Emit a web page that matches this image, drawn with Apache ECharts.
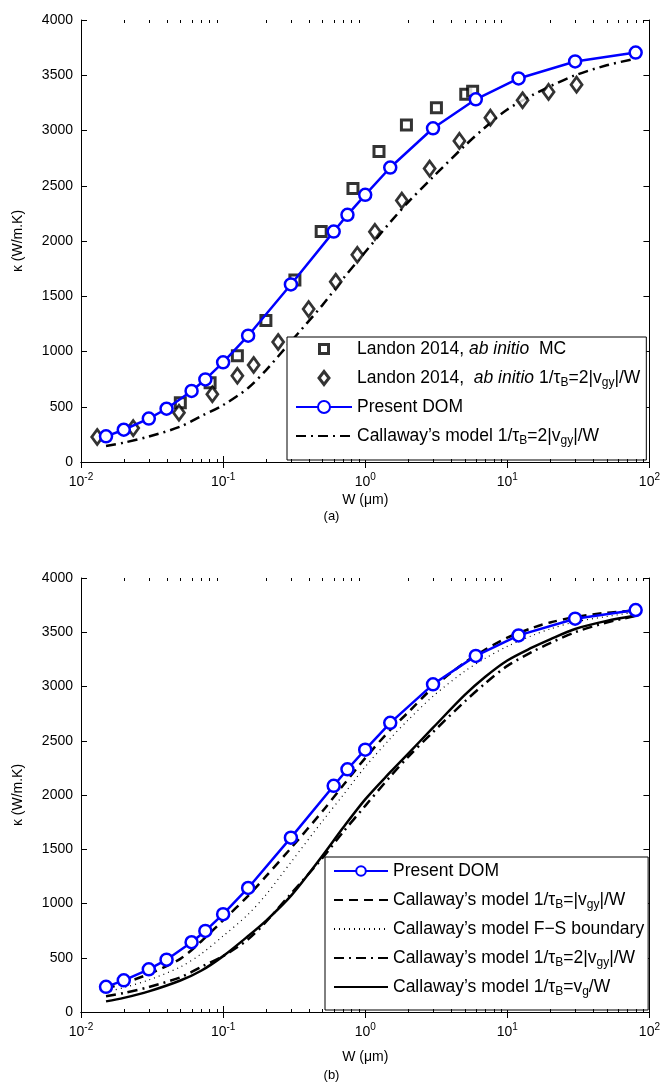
<!DOCTYPE html>
<html><head><meta charset="utf-8">
<script src="https://cdn.jsdelivr.net/npm/echarts@6/dist/echarts.min.js"></script>
<style>html,body{margin:0;padding:0;background:#fff}#c{width:663px;height:1087px}</style>
</head><body><div id="c"></div>
<script>
// ---- data ----
const W_DOM = [0.015,0.02,0.03,0.04,0.06,0.075,0.1,0.15,0.3,0.6,0.75,1,1.5,3,6,12,30,80];
const K_DOM = [232,292,393,482,643,747,902,1143,1607,2085,2237,2418,2665,3020,3282,3471,3625,3705];

const W_MC = [0.05,0.081,0.126,0.2,0.32,0.49,0.82,1.25,1.95,3.17,5.1,5.7];
const K_MC = [536,717,961,1280,1646,2086,2476,2811,3050,3205,3328,3355];

const W_AI = [0.013,0.0233,0.0489,0.084,0.126,0.164,0.244,0.40,0.62,0.88,1.17,1.81,2.84,4.6,7.6,12.8,19.5,30.7];
const K_AI = [226,307,446,613,780,878,1086,1384,1631,1875,2083,2366,2655,2906,3116,3274,3349,3415];

const W_CAL = [0.015,0.02,0.03,0.05,0.07,0.1,0.15,0.2,0.3,0.5,0.7,1,1.5,2,3,5,7,10,15,20,30,50,80];
const K_CAL_VGY  = [215,265,350,490,650,845,1070,1250,1510,1850,2090,2340,2600,2760,2990,3220,3340,3450,3540,3590,3640,3680,3700];
const K_CAL_FS   = [185,225,295,415,535,700,900,1080,1380,1760,2000,2260,2520,2690,2910,3140,3260,3370,3470,3530,3595,3645,3685];
const K_CAL_2VGY = [145,175,230,320,415,515,670,830,1090,1420,1660,1900,2170,2350,2580,2860,3030,3190,3320,3400,3500,3590,3650];
const K_CAL_VG   = [98,130,190,290,380,515,700,840,1070,1440,1700,1960,2210,2380,2620,2920,3090,3240,3360,3435,3530,3605,3655];

const X_MINOR = [];
[0.01,0.1,1,10].forEach(d=>{for(let k=2;k<=9;k++)X_MINOR.push(+(d*k).toPrecision(3));});
const Y_TICK_STEP = 500;

const NAMES = {
  mc: 'Landon 2014, ab initio  MC',
  ai: 'Landon 2014,  ab initio 1/tauB=2|vgy|/W',
  dom: 'Present DOM',
  c2: 'Callaway 1/tauB=2|vgy|/W',
  c1: 'Callaway 1/tauB=|vgy|/W',
  fs: "Callaway F-S",
  vg: 'Callaway 1/tauB=vg/W'
};
const LABELS = {};
LABELS[NAMES.mc] = 'Landon 2014, {i|ab initio}  MC';
LABELS[NAMES.ai] = 'Landon 2014,  {i|ab initio} 1/τ{s|B}=2|v{s|gy}|/W';
LABELS[NAMES.dom] = 'Present DOM';
LABELS[NAMES.c2] = 'Callaway’s model 1/τ{s|B}=2|v{s|gy}|/W';
LABELS[NAMES.c1] = 'Callaway’s model 1/τ{s|B}=|v{s|gy}|/W';
LABELS[NAMES.fs] = 'Callaway’s model F−S boundary';
LABELS[NAMES.vg] = 'Callaway’s model 1/τ{s|B}=v{s|g}/W';

const zip = (a,b)=>a.map((v,i)=>[v,b[i]]);
const FONT = 'Liberation Sans, Arial, Helvetica, sans-serif';
const BLUE = '#0000ff';

const GRIDS = [{left:81,right:10,top:20,height:442},{left:81,right:10,top:578,height:434}];

function xAxes(gi){
  return [
    {type:'log',logBase:10,gridIndex:gi,min:0.01,max:100,position:'bottom',
     name:'W (μm)',nameLocation:'middle',nameGap:gi===0?31:38,
     nameTextStyle:{fontFamily:FONT,fontSize:14,color:'#000'},
     axisLine:{lineStyle:{color:'#000',width:1}},
     axisTick:{inside:true,length:6,lineStyle:{color:'#000'}},
     splitLine:{show:false},minorTick:{show:false},
     axisLabel:{color:'#000',fontFamily:FONT,fontSize:14,margin:10,
       formatter:v=>{const e=Math.round(Math.log10(v));return '{b|10}{p|'+e+'}';},
       rich:{b:{fontFamily:FONT,fontSize:14,color:'#000'},p:{fontFamily:FONT,fontSize:10,color:'#000',padding:[0,0,10,0]}}}},
    {type:'log',logBase:10,gridIndex:gi,min:0.01,max:100,position:'top',
     axisLine:{lineStyle:{color:'#000',width:1}},
     axisTick:{inside:true,length:6,lineStyle:{color:'#000'}},
     axisLabel:{show:false},splitLine:{show:false}}
  ];
}
function yAxes(gi){
  return [
    {type:'value',gridIndex:gi,min:0,max:4000,interval:Y_TICK_STEP,position:'left',
     name:'κ (W/m.K)',nameLocation:'middle',nameGap:56,nameRotate:90,
     nameTextStyle:{fontFamily:FONT,fontSize:14,color:'#000'},
     axisLine:{show:true,lineStyle:{color:'#000',width:1}},
     axisTick:{show:true,inside:true,length:6,lineStyle:{color:'#000'}},
     splitLine:{show:false},
     axisLabel:{color:'#000',fontFamily:FONT,fontSize:14,margin:8,formatter:v=>String(v)}},
    {type:'value',gridIndex:gi,min:0,max:4000,interval:Y_TICK_STEP,position:'right',
     axisLine:{show:true,lineStyle:{color:'#000',width:1}},
     axisTick:{show:true,inside:true,length:6,lineStyle:{color:'#000'}},
     splitLine:{show:false},axisLabel:{show:false}}
  ];
}

function minorSeries(gi){
  return {type:'custom',xAxisIndex:gi*2,yAxisIndex:gi*2,silent:true,z:5,clip:false,
    data:X_MINOR.map(v=>[v,0]),
    renderItem:(params,api)=>{
      const cs=params.coordSys;const x=Math.round(api.coord([api.value(0),0])[0])+0.5;
      const y0=cs.y+cs.height,y1=cs.y;
      return {type:'group',children:[
        {type:'line',shape:{x1:x,y1:y0,x2:x,y2:y0-3},style:{stroke:'#000',lineWidth:1}},
        {type:'line',shape:{x1:x,y1:y1,x2:x,y2:y1+3},style:{stroke:'#000',lineWidth:1}}
      ]};
    }};
}

const legendText = {fontFamily:FONT,fontSize:17.5,color:'#000',lineHeight:22,
  rich:{i:{fontFamily:FONT,fontSize:17.5,fontStyle:'italic',color:'#000',lineHeight:22},
        s:{fontFamily:FONT,fontSize:12,color:'#000',lineHeight:12,padding:[10,0,0,0]}}};

const domSeries = (gi)=>({name:NAMES.dom,type:'line',xAxisIndex:gi*2,yAxisIndex:gi*2,z:10,
  data:zip(W_DOM,K_DOM),symbol:'circle',symbolSize:12,showAllSymbol:true,
  lineStyle:{color:BLUE,width:2.5},itemStyle:{color:'#fff',borderColor:BLUE,borderWidth:2.5},
  emphasis:{disabled:true}});

const curve = (gi,name,vals,type,width,z)=>({name,type:'line',xAxisIndex:gi*2,yAxisIndex:gi*2,z:z||3,
  data:zip(W_CAL,vals),symbol:'none',smooth:0.3,
  lineStyle:{color:'#000',width:width,type:type},itemStyle:{color:'#000'},emphasis:{disabled:true}});

const DASHDOT=[10,5,2,5], DASH=[9,6], DOT=[1,4];
const NOSYM = {itemStyle:{opacity:0}};
const SQUARE = 'path://M0,0L0,0M15,15L15,15M3,3L12,3L12,12L3,12Z';
const DIAMOND = 'path://M0,0L0,0M15,15L15,15M7.5,1L12.5,7.5L7.5,14L2.5,7.5Z';
const MARKSTYLE = {color:'#fff',borderColor:'#000',borderWidth:3};

const option = {
  animation:false,
  backgroundColor:'#fff',
  grid:GRIDS,
  xAxis:[...xAxes(0),...xAxes(1)],
  yAxis:[...yAxes(0),...yAxes(1)],
  legend:[
    {left:287,top:337,orient:'vertical',align:'left',
     data:[{name:NAMES.mc,icon:SQUARE,itemStyle:MARKSTYLE},{name:NAMES.ai,icon:DIAMOND,itemStyle:MARKSTYLE},
           {name:NAMES.dom},{name:NAMES.c2,...NOSYM}],
     itemWidth:56,itemHeight:15,itemGap:7,symbolKeepAspect:true,
     padding:[1,6,13,8],borderColor:'#000',borderWidth:1,backgroundColor:'#fff',
     textStyle:legendText,formatter:n=>LABELS[n],selectedMode:false},
    {left:325,top:857,orient:'vertical',align:'left',
     data:[{name:NAMES.dom},{name:NAMES.c1,...NOSYM},{name:NAMES.fs,...NOSYM},{name:NAMES.c2,...NOSYM},{name:NAMES.vg,...NOSYM}],
     itemWidth:54,itemHeight:12,itemGap:7,symbolKeepAspect:true,
     padding:[3,4,12,8],borderColor:'#000',borderWidth:1,backgroundColor:'#fff',
     textStyle:legendText,formatter:n=>LABELS[n],selectedMode:false}
  ],
  graphic:[
    {type:'text',left:'center',top:510,style:{text:'(a)',font:'13px '+FONT,fill:'#000'}},
    {type:'text',left:'center',top:1069,style:{text:'(b)',font:'13px '+FONT,fill:'#000'}}
  ],
  series:[
    minorSeries(0),minorSeries(1),
    // panel (a)
    {name:NAMES.mc,type:'scatter',xAxisIndex:0,yAxisIndex:0,z:4,data:zip(W_MC,K_MC),
     symbol:'rect',symbolSize:10,itemStyle:{color:'#fff',borderColor:'#000',borderWidth:3},emphasis:{disabled:true}},
    {name:NAMES.ai,type:'scatter',xAxisIndex:0,yAxisIndex:0,z:4,data:zip(W_AI,K_AI),
     symbol:'diamond',symbolSize:[11,15],itemStyle:{color:'#fff',borderColor:'#000',borderWidth:2.8},emphasis:{disabled:true}},
    curve(0,NAMES.c2,K_CAL_2VGY,DASHDOT,2.5,3),
    domSeries(0),
    // panel (b)
    curve(1,NAMES.vg,K_CAL_VG,'solid',2.5,3),
    curve(1,NAMES.c2,K_CAL_2VGY,DASHDOT,2.5,3),
    curve(1,NAMES.fs,K_CAL_FS,DOT,1.2,3),
    curve(1,NAMES.c1,K_CAL_VGY,DASH,2.5,4),
    domSeries(1)
  ]
};
const chart = echarts.init(document.getElementById('c'),null,{renderer:'canvas'});
chart.setOption(option);
</script></body></html>
